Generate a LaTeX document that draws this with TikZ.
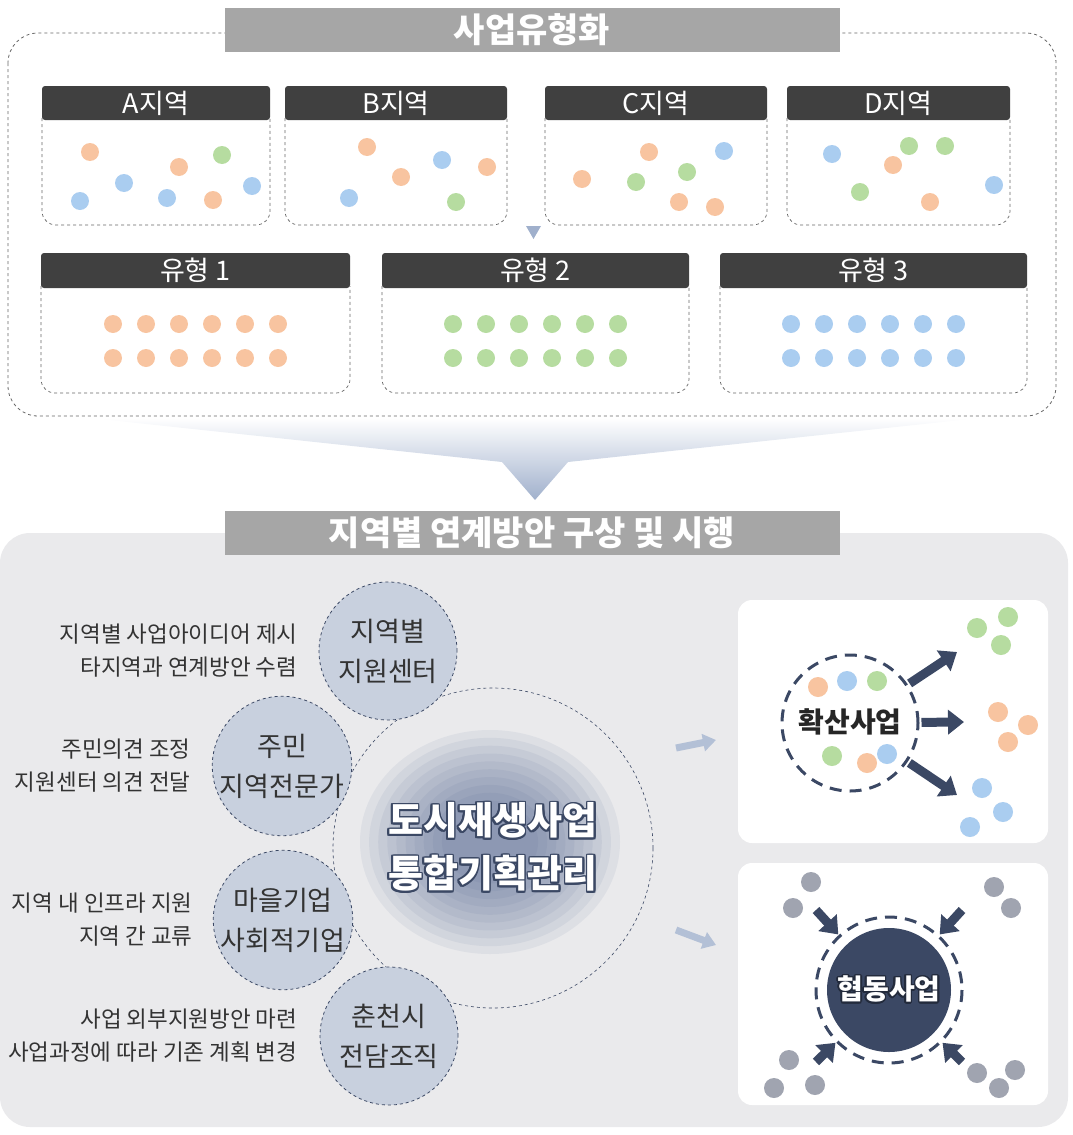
\documentclass[tikz,border=0pt]{standalone}
\usepackage{fontspec}
\setmainfont{Noto Sans CJK KR}
\usepackage[copies]{contour}
\usepackage{tikz}
\usetikzlibrary{positioning,arrows.meta}
\definecolor{hdrgray}{RGB}{64,64,64}
\definecolor{titlegray}{RGB}{166,166,166}
\definecolor{bggray}{RGB}{234,234,236}
\definecolor{hubnavy}{RGB}{59,72,100}
\definecolor{blobblue}{RGB}{62,84,135}
\definecolor{spokefill}{RGB}{200,208,222}
\definecolor{funnelblue}{RGB}{160,176,204}
\definecolor{dotorange}{RGB}{248,196,160}
\definecolor{dotgreen}{RGB}{182,220,160}
\definecolor{dotblue}{RGB}{170,205,240}
\definecolor{dotgray}{RGB}{160,164,176}
\contourlength{1.6pt}

\begin{document}
\begin{tikzpicture}[x=1pt,y=-1pt,
  titlebar/.style={fill=titlegray,text=white,minimum width=615pt,minimum height=44pt,inner sep=0pt,font=\bfseries\fontsize{34}{34}\selectfont},
  hdr/.style={fill=hdrgray,rounded corners=3pt,text=white,minimum height=34pt,inner sep=0pt,font=\fontsize{27}{27}\selectfont},
  bodybox/.style={draw=black!60,dashed,line width=0.7pt,rounded corners=14pt},
  spoke/.style={circle,fill=spokefill,draw=hubnavy,dashed,line width=0.8pt,minimum size=138pt,inner sep=0pt,align=center,text=black!80,font=\fontsize{27}{40}\selectfont},
  desc/.style={align=right,inner sep=0pt,text=black!80,font=\fontsize{22.5}{33}\selectfont},
  blockarrow/.style={hubnavy,line width=9pt,-{Triangle[width=24pt,length=16pt]}},
  hubarrow/.style={funnelblue!80,line width=7pt,-{Triangle[width=17pt,length=13pt]}},
  whitebox/.style={fill=white,rounded corners=14pt}]
\useasboundingbox (0,0) rectangle (1072,1135);

\draw[black!60,dashed,line width=0.8pt,rounded corners=30pt] (8,33) rectangle (1056,416);
\node[titlebar] (ttop) at (532,30) {사업유형화};

\foreach \n/\l/\r in {A/42/270,B/285/507,C/545/767,D/787/1010}{
  \pgfmathsetmacro\w{\r-\l}
  \draw[bodybox] (\l,118) |- (\r,225) -- (\r,118);
  \node[hdr,minimum width=\w pt] (area\n) at ({(\l+\r)/2},103) {{\n}지역};
}
\foreach \x/\y/\c in {90/152/dotorange,80/201/dotblue,124/183/dotblue,179/167/dotorange,222/155/dotgreen,167/198/dotblue,213/200/dotorange,252/186/dotblue,
  367/147/dotorange,401/177/dotorange,442/160/dotblue,487/167/dotorange,349/198/dotblue,456/202/dotgreen,
  582/179/dotorange,649/152/dotorange,636/182/dotgreen,687/172/dotgreen,724/151/dotblue,679/202/dotorange,715/207/dotorange,
  832/154/dotblue,909/146/dotgreen,945/146/dotgreen,893/165/dotorange,860/192/dotgreen,930/202/dotorange,994/185/dotblue}
  \fill[\c] (\x,\y) circle (9);
\fill[funnelblue] (526,226) -- (541,226) -- (533.5,239) -- cycle;

\foreach \n/\l/\r/\c in {1/41/350/dotorange,2/382/689/dotgreen,3/720/1027/dotblue}{
  \pgfmathsetmacro\w{\r-\l}
  \draw[bodybox] (\l,286) |- (\r,393) -- (\r,286);
  \node[hdr,minimum width=\w pt,minimum height=35pt] (type\n) at ({(\l+\r)/2},270.5) {유형 {\n}};
  \foreach \i in {0,...,5}{
    \fill[\c] ({(\l+\r)/2-82.5+33*\i},324) circle (9);
    \fill[\c] ({(\l+\r)/2-82.5+33*\i},358) circle (9);
  }
}

\shade[top color=white,bottom color=funnelblue] (90,418) -- (980,418) -- (568,462) -- (535,500) -- (502,462) -- cycle;

\fill[bggray,rounded corners=30pt] (0,533) rectangle (1068,1127);
\node[titlebar] (tbottom) at (532,533) {지역별 연계방안 구상 및 시행};

\node[circle,draw=hubnavy,dashed,line width=0.6pt,minimum size=320pt] (hub) at (493,848) {};
\foreach \s in {1,0.93,...,0.3}
  \fill[blobblue,opacity=0.07] (490,842) ellipse ({130*\s} and {112*\s});
\node[text=white,align=center,font=\bfseries\fontsize{38}{53}\selectfont] (hubtext) at (hub)
  {\contour{hubnavy}{도시재생사업}\\\contour{hubnavy}{통합기획관리}};

\node[spoke] (s1) at (388,651) {지역별\\지원센터};
\node[spoke] (s2) at (282,766) {주민\\지역전문가};
\node[spoke] (s3) at (283,920) {마을기업\\사회적기업};
\node[spoke] (s4) at (389,1036) {춘천시\\전담조직};
\node[desc,left=21pt of s1] (d1) {지역별 사업아이디어 제시\\타지역과 연계방안 수렴};
\node[desc,left=21pt of s2] (d2) {주민의견 조정\\지원센터 의견 전달};
\node[desc,left=20pt of s3] (d3) {지역 내 인프라 지원\\지역 간 교류};
\node[desc,left=22pt of s4] (d4) {사업 외부지원방안 마련\\사업과정에 따라 기존 계획 변경};

\coordinate (h1a) at (676,748);
\coordinate (h1b) at (716,740);
\coordinate (h2a) at (676,930);
\coordinate (h2b) at (716,945);
\draw[hubarrow] (h1a) -- (h1b);
\draw[hubarrow] (h2a) -- (h2b);

\fill[whitebox] (738,600) rectangle (1048,843);
\node[circle,draw=hubnavy,dash pattern=on 12pt off 8pt,line width=3pt,minimum size=136pt] (spread) at (850,723) {};
\foreach \x/\y/\c in {818/687/dotorange,847/681/dotblue,877/681/dotgreen,832/756/dotgreen,867/763/dotorange,887/754/dotblue,
  977/628/dotgreen,1008/617/dotgreen,1001/645/dotgreen,998/712/dotorange,1028/725/dotorange,1008/742/dotorange,
  982/788/dotblue,1003/812/dotblue,970/827/dotblue}
  \fill[\c] (\x,\y) circle (10);
\node[text=black!85,font=\bfseries\fontsize{28}{28}\selectfont] (spreadtext) at (spread) {\contour{white}{확산사업}};
\coordinate (out1) at (957,652);
\coordinate (out2) at (964,722);
\coordinate (out3) at (957,795);
\draw[blockarrow,shorten <=2pt] (spread) -- (out1);
\draw[blockarrow,shorten <=2pt] (spread) -- (out2);
\draw[blockarrow,shorten <=2pt] (spread) -- (out3);

\fill[whitebox] (738,863) rectangle (1048,1105);
\foreach \x/\y in {811/882,793/908,994/887,1011/908,789/1060,774/1088,815/1085,977/1073,1015/1070,999/1088}
  \fill[dotgray] (\x,\y) circle (10);
\node[circle,fill=hubnavy,minimum size=124pt,inner sep=0pt,text=white,font=\bfseries\fontsize{28}{28}\selectfont] (coop) at (889,990) {\contour{hubnavy!60!black}{협동사업}};
\draw[hubnavy,dash pattern=on 12pt off 8pt,line width=3pt] (coop.center) circle (73);
\coordinate (in1) at (816,910);
\coordinate (in2) at (962,910);
\coordinate (in3) at (816,1062);
\coordinate (in4) at (962,1062);
\foreach \c in {in1,in2,in3,in4}
  \draw[blockarrow,shorten >=13pt] (\c) -- (coop);
\end{tikzpicture}
\end{document}
